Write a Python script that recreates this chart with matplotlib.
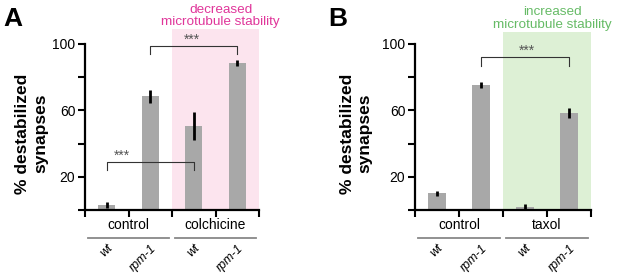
import matplotlib
matplotlib.use("Agg")
import matplotlib.pyplot as plt
from matplotlib.patches import Rectangle
from matplotlib.transforms import blended_transform_factory

plt.rcParams["font.family"] = ["Liberation Sans", "DejaVu Sans"]

# data
genotypes = ["wt", "rpm-1", "wt", "rpm-1"]

groups_a = ["control", "colchicine"]
mean_a = [3.0, 68.5, 50.5, 88.5]
err_a = [2.0, 4.0, 8.5, 2.0]

groups_b = ["control", "taxol"]
mean_b = [10.0, 75.5, 2.0, 58.5]
err_b = [1.3, 1.8, 1.5, 2.8]

bar_color = "#a8a8a8"


def draw_panel(ax, means, errs, groups, shade, shade_top, note, note_color,
               brackets, ylabel_x):
    x = list(range(len(means)))
    ax.bar(x, means, width=0.39, color=bar_color, zorder=2)
    ax.errorbar(x, means, yerr=errs, fmt="none", ecolor="black",
                elinewidth=2.0, capsize=0, zorder=3)

    # shaded treatment region
    ax.add_patch(Rectangle((1.5, 0), 2.0, shade_top, facecolor=shade,
                           edgecolor="none", zorder=0, clip_on=False))
    ax.text(2.62, shade_top + 0.5, note, color=note_color, fontsize=9.7,
            ha="center", va="bottom", linespacing=1.05)

    # significance brackets
    for x0, x1, yb, leg, sx in brackets:
        ax.plot([x0, x0, x1, x1], [yb - leg, yb, yb, yb - leg],
                color="#333333", lw=0.8, zorder=4, clip_on=False)
        ax.text(sx, yb + 1.5, "***", color="#555555", fontsize=10,
                ha="center", va="baseline")

    ax.set_xlim(-0.5, 3.5)
    ax.set_ylim(0, 100)
    ax.set_yticks([0, 20, 40, 60, 80, 100])
    ax.set_yticklabels(["", "20", "", "60", "", "100"], fontsize=10)
    ax.set_xticks([-0.5, 0.5, 1.5, 2.5, 3.5])
    ax.set_xticklabels([])
    ax.tick_params(direction="out", length=5, width=1.5, pad=2)
    for side in ["top", "right"]:
        ax.spines[side].set_visible(False)
    for side in ["left", "bottom"]:
        ax.spines[side].set_linewidth(1.6)

    tr = blended_transform_factory(ax.transData, ax.transAxes)
    # group labels and underlines
    for k, g in enumerate(groups):
        cx = 0.5 + 2 * k
        ax.text(cx, -0.09, g, transform=tr, fontsize=10, ha="center",
                va="center")
        ax.plot([cx - 0.93, cx + 0.93], [-0.167, -0.167], transform=tr,
                color="#888888", lw=1.3, clip_on=False)
    # genotype labels
    for i, lab in enumerate(genotypes):
        ax.text(i + 0.1, -0.22, lab, transform=tr, fontsize=9,
                style="italic", rotation=45, ha="right", va="center",
                rotation_mode="anchor")

    ax.text(ylabel_x, 0.46, "% destabilized\nsynapses", transform=ax.transAxes,
            rotation=90, fontsize=12.5, fontweight="bold", ha="center",
            va="center", linespacing=1.25)


fig = plt.figure(figsize=(6.17, 2.79), dpi=100)
ax_a = fig.add_axes([0.1378, 0.2473, 0.282, 0.595])
ax_b = fig.add_axes([0.6726, 0.2473, 0.2853, 0.595])

draw_panel(ax_a, mean_a, err_a, groups_a, "#fce4ee", 109,
           "decreased\nmicrotubule stability", "#e0369a",
           [(1, 3, 98.7, 5.0, 1.95), (0, 2, 29.0, 5.0, 0.35)], -0.305)
draw_panel(ax_b, mean_b, err_b, groups_b, "#ddf0d5", 107.5,
           "increased\nmicrotubule stability", "#66bb66",
           [(1, 3, 92.0, 5.5, 2.05)], -0.335)

fig.text(0.005, 0.907, "A", fontsize=19, fontweight="bold", va="baseline")
fig.text(0.532, 0.907, "B", fontsize=19, fontweight="bold", va="baseline")

fig.savefig("out.png", dpi=100)
